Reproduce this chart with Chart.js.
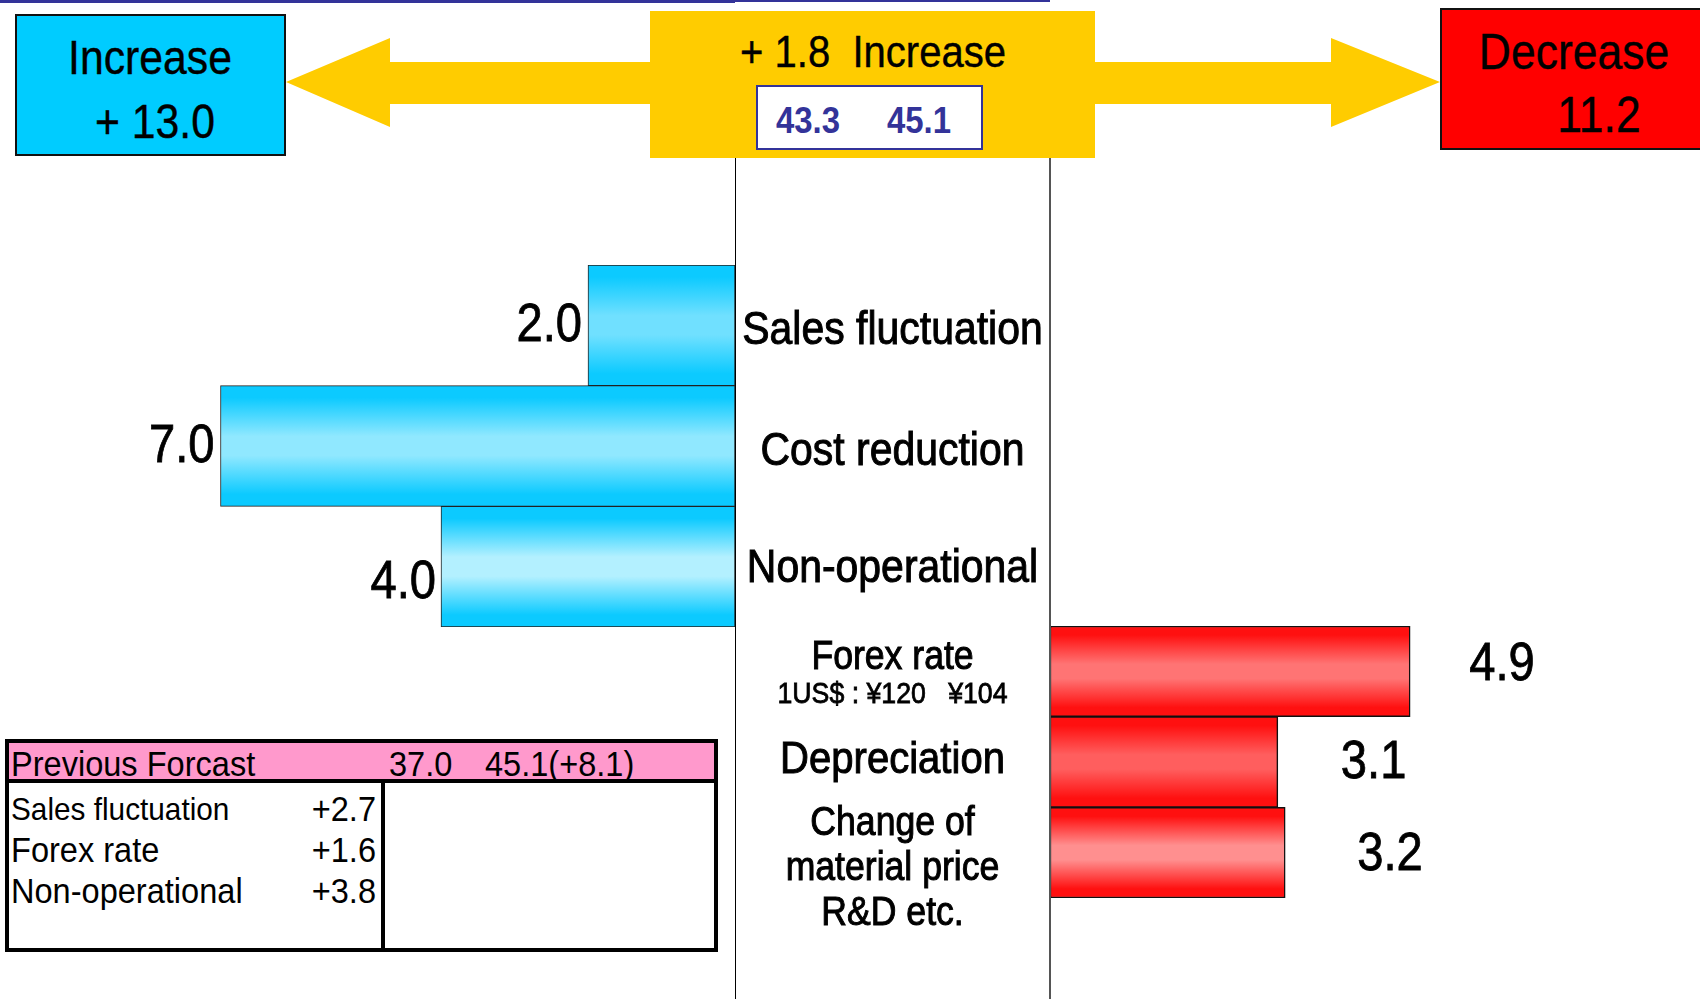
<!DOCTYPE html>
<html>
<head>
<meta charset="utf-8">
<title>Operating profit variance</title>
<script src="https://cdn.jsdelivr.net/npm/chart.js@4.4.1/dist/chart.umd.min.js"></script>
<style>
  html, body { margin: 0; padding: 0; background: #fff; overflow: hidden; }
  body { width: 1700px; height: 999px; position: relative; font-family: "Liberation Sans", Arial, sans-serif; }
  .abs { position: absolute; box-sizing: border-box; }
  .txt { position: absolute; white-space: pre; color: #000; }
  canvas { position: absolute; }
</style>
</head>
<body>
<div id="stage"></div>
<canvas id="gainChart" width="1050" height="362" style="left:0;top:265px"></canvas>
<canvas id="lossChart" width="1050" height="342" style="left:735px;top:626px"></canvas>

<script>
// ── Data ───────────────────────────────────────────────────
const gainLabels = ["Sales fluctuation", "Cost reduction", "Non-operational"];
const gainValues = [2.0, 7.0, 4.0];

const lossLabels = [["Forex rate"], ["Depreciation"], ["Change of", "material price", "R&D etc."]];
const lossValues = [4.9, 3.1, 3.2];
const lossNotes = ["1US$ : ¥120   ¥104", "", ""];

const increaseTotal = "+ 13.0";
const decreaseTotal = "11.2";
const netChange = "+ 1.8  Increase";
const profitBefore = "43.3";
const profitAfter = "45.1";

const prevTitle = "Previous Forcast";
const prevValues = ["37.0", "45.1(+8.1)"];
const prevItems = ["Sales fluctuation", "Forex rate", "Non-operational"];
const prevDiffs = ["+2.7", "+1.6", "+3.8"];

const SQUEEZE = 0.89;   // the original lettering is a bit condensed
const FONT = '"Liberation Sans", Arial, sans-serif';

// ── Static frame (boxes, arrows, table) ────────────────────
const stage = document.getElementById("stage");

function rect(x, y, w, h, css) {
  const d = document.createElement("div");
  d.className = "abs";
  d.style.cssText = `left:${x}px;top:${y}px;width:${w}px;height:${h}px;${css}`;
  stage.appendChild(d);
  return d;
}

function text(str, x, cy, size, { align = "center", color = "#000", weight = 400, sx = SQUEEZE, stroke = 0 } = {}) {
  const d = document.createElement("div");
  d.className = "txt";
  d.textContent = str;
  const tx = align === "center" ? "-50%" : align === "right" ? "-100%" : "0";
  const origin = align === "center" ? "50% 50%" : align === "right" ? "100% 50%" : "0 50%";
  d.style.cssText = `left:${x}px;top:${cy - size + 1}px;height:${size * 2}px;line-height:${size * 2}px;` +
    `font-size:${size}px;color:${color};font-weight:${weight};-webkit-text-stroke:${stroke}px ${color};` +
    `transform:translateX(${tx}) scaleX(${sx});transform-origin:${origin};`;
  stage.appendChild(d);
}

// top rule
rect(0, 0, 735, 3, "background:#333399");
rect(735, 0, 315, 2, "background:#333399");

// arrows
stage.insertAdjacentHTML("beforeend", `
  <svg class="abs" style="left:0;top:0" width="1700" height="170">
    <polygon fill="#ffcc00" points="286,82 390,38 390,62 652,62 652,104 390,104 390,127"/>
    <polygon fill="#ffcc00" points="1440,82 1331,38 1331,62 1093,62 1093,104 1331,104 1331,127"/>
  </svg>`);

// increase / net / decrease boxes
rect(15, 14, 271, 142, "background:#00ccff;border:2px solid #111");
text("Increase", 150, 57, 48, { stroke: 0.4 });
text(increaseTotal, 155, 121, 48, { stroke: 0.4 });

rect(650, 11, 445, 147, "background:#ffcc00");
text(netChange, 873, 51, 45, { stroke: 0.4 });
rect(756, 85, 227, 65, "background:#fff;border:2px solid #333399");
text(profitBefore, 808, 120, 37, { color: "#333399", weight: 700 });
text(profitAfter, 919, 120, 37, { color: "#333399", weight: 700 });

rect(1440, 8, 270, 142, "background:#ff0000;border:2px solid #111");
text("Decrease", 1574, 51, 50, { stroke: 0.4 });
text(decreaseTotal, 1599, 114, 50, { stroke: 0.4 });

// centre column rules
rect(735, 158, 1, 841, "background:#000;z-index:2");
rect(1049, 158, 2, 841, "background:#555;z-index:2");

// previous forecast table
rect(5, 739, 713, 213, "border:4px solid #000");
rect(9, 743, 705, 36, "background:#ff99cc");
rect(5, 779, 713, 4, "background:#000");
rect(381, 779, 4, 173, "background:#000");
text(prevTitle, 11, 763, 35, { align: "left", sx: 0.93 });
text(prevValues[0], 389, 763, 35, { align: "left", sx: 0.93 });
text(prevValues[1], 485, 763, 35, { align: "left", sx: 0.93 });
const rowY = [808, 849, 890];
const rowSize = [32, 35, 35];
prevItems.forEach((item, i) => {
  text(item, 11, rowY[i], rowSize[i], { align: "left", sx: 0.93 });
  text(prevDiffs[i], 376, rowY[i], 35, { align: "right", sx: 0.93 });
});

// ── Chart helpers ──────────────────────────────────────────
// canvas 'middle' sits a touch high for caps, so nudge down a little
function squeezed(ctx, str, x, y, size, align, stroke = 0) {
  ctx.save();
  ctx.translate(x, y + size * 0.07);
  ctx.scale(SQUEEZE, 1);
  ctx.font = `${size}px ${FONT}`;
  ctx.textAlign = align;
  ctx.fillText(str, 0, 0);
  if (stroke) {
    ctx.lineWidth = stroke;
    ctx.strokeStyle = ctx.fillStyle;
    ctx.strokeText(str, 0, 0);
  }
  ctx.restore();
}

// vertical gradient per bar, edge -> light middle -> edge
function barFill(edge, mids) {
  return (c) => {
    const chart = c.chart;
    const y = chart.scales && chart.scales.y;
    if (!chart.chartArea || !y || c.dataIndex === undefined) return edge;
    const mid = y.getPixelForValue(c.dataIndex);
    const half = (y.bottom - y.top) / chart.data.labels.length / 2;
    if (!isFinite(mid) || !isFinite(half) || half <= 0) return edge;
    const g = chart.ctx.createLinearGradient(0, mid - half, 0, mid + half);
    const m = mids[c.dataIndex % mids.length];
    g.addColorStop(0, edge);
    g.addColorStop(0.1, edge);
    g.addColorStop(0.42, m);
    g.addColorStop(0.58, m);
    g.addColorStop(0.9, edge);
    g.addColorStop(1, edge);
    return g;
  };
}

function categoryText(labels, styles, notes) {
  return {
    id: "categoryText",
    afterDraw(chart) {
      const y = chart.scales.y;
      const ctx = chart.ctx;
      const cx = (y.left + y.right) / 2;
      ctx.save();
      ctx.fillStyle = "#000";
      ctx.textBaseline = "middle";
      labels.forEach((label, i) => {
        const st = styles[i];
        const rows = Array.isArray(label) ? label : [label];
        const yc = y.getPixelForTick(i) + st.shift;
        const top = yc - (rows.length - 1) * st.lead / 2;
        rows.forEach((row, j) => squeezed(ctx, row, cx, top + j * st.lead, st.size, "center", 1));
        if (notes && notes[i]) squeezed(ctx, notes[i], cx, y.getPixelForTick(i) + st.noteDy, st.noteSize, "center", 0.8);
      });
      ctx.restore();
    },
  };
}

function valueText(side, dx, dy) {
  return {
    id: "valueText",
    afterDatasetsDraw(chart) {
      const meta = chart.getDatasetMeta(0);
      const values = chart.data.datasets[0].data;
      const ctx = chart.ctx;
      ctx.save();
      ctx.fillStyle = "#000";
      ctx.textBaseline = "middle";
      meta.data.forEach((bar, i) => {
        const x = side === "left" ? bar.x - dx[i] : bar.x + dx[i];
        squeezed(ctx, values[i].toFixed(1), x, bar.y + dy[i], 53, side === "left" ? "right" : "left", 0.8);
      });
      ctx.restore();
    },
  };
}

function baseOptions(reverse, axisSide, bottomPad) {
  return {
    indexAxis: "y",
    responsive: false,
    animation: false,
    events: [],
    layout: { padding: { top: 0, left: 0, right: 0, bottom: bottomPad } },
    plugins: { legend: { display: false }, tooltip: { enabled: false } },
    scales: {
      x: { reverse, min: 0, max: 10, display: false },
      y: {
        position: axisSide,
        grid: { display: false, drawTicks: false },
        border: { display: false },
        ticks: { display: false },
        afterFit: (s) => { s.width = 315; },
      },
    },
  };
}

// ── Gains (left, blue) ─────────────────────────────────────
new Chart(document.getElementById("gainChart"), {
  type: "bar",
  data: {
    labels: gainLabels,
    datasets: [{
      data: gainValues,
      backgroundColor: barFill("#0ccaff", ["#70e0ff", "#90e8ff", "#b3f0ff"]),
      borderColor: "#222",
      borderWidth: 1,
      borderSkipped: false,
      categoryPercentage: 1,
      barPercentage: 1,
    }],
  },
  options: baseOptions(true, "right", 0),
  plugins: [
    categoryText(gainLabels, [
      { size: 46, lead: 0, shift: 3 },
      { size: 46, lead: 0, shift: 3 },
      { size: 46, lead: 0, shift: -1 },
    ]),
    valueText("left", [6, 6, 5], [-3, -2, 13]),
  ],
});

// ── Losses (right, red) ────────────────────────────────────
new Chart(document.getElementById("lossChart"), {
  type: "bar",
  data: {
    labels: lossLabels,
    datasets: [{
      data: lossValues,
      backgroundColor: barFill("#ff1010", ["#ff7474", "#ff5e5e", "#ff8f8f"]),
      borderColor: "#111",
      borderWidth: 1.5,
      borderSkipped: false,
      categoryPercentage: 1,
      barPercentage: 1,
    }],
  },
  options: baseOptions(false, "left", 70),
  plugins: [
    categoryText(lossLabels, [
      { size: 40, lead: 0, shift: -16, noteSize: 30, noteDy: 21 },
      { size: 45, lead: 0, shift: -5 },
      { size: 40, lead: 45, shift: 14 },
    ], lossNotes),
    valueText("right", [59, 63, 72], [-10, -2, -1]),
  ],
});
</script>
</body>
</html>
